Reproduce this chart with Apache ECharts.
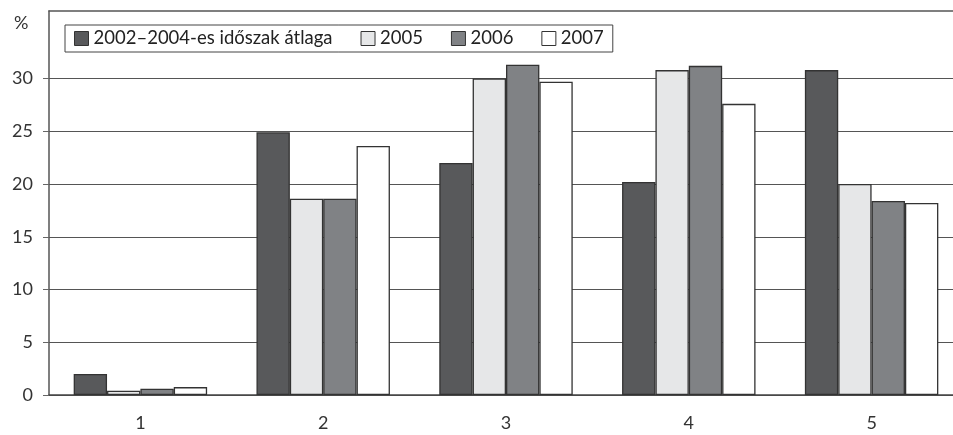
<!DOCTYPE html>
<html>
<head>
<meta charset="utf-8">
<script src="https://cdn.jsdelivr.net/npm/echarts@6/dist/echarts.min.js"></script>
<style>
  html, body { margin: 0; padding: 0; background: #fff; overflow: hidden; }
  #chart { width: 953px; height: 435px; }
</style>
</head>
<body>
<div id="chart"></div>
<script>
// Categories along the x axis
const categories = ['1', '2', '3', '4', '5'];

// Series names and values (%)
const seriesNames = ['2002–2004-es időszak átlaga', '2005', '2006', '2007'];
const avg2002_2004 = [2.0, 24.9, 22.0, 20.2, 30.8];
const values2005   = [0.4, 18.6, 30.0, 30.8, 20.0];
const values2006   = [0.6, 18.6, 31.3, 31.2, 18.4];
const values2007   = [0.75, 23.6, 29.7, 27.6, 18.2];

// Y axis tick labels
const yTicks = [0, 5, 10, 15, 20, 25, 30];

const fills = ['#58595b', '#e6e7e8', '#808285', '#ffffff'];
const seriesData = [avg2002_2004, values2005, values2006, values2007];
const FONT = 'Lato, "Open Sans", sans-serif';

const chart = echarts.init(document.getElementById('chart'), null, { renderer: 'canvas' });

chart.setOption({
  animation: false,
  backgroundColor: '#ffffff',
  title: {
    text: '%',
    left: 9,
    top: 9,
    textStyle: { fontFamily: FONT, fontSize: 18, fontWeight: 'normal', color: '#333' }
  },
  legend: {
    left: 65,
    top: 25,
    orient: 'horizontal',
    icon: 'rect',
    itemWidth: 14,
    itemHeight: 14,
    itemGap: 28,
    itemStyle: { borderColor: '#333', borderWidth: 1 },
    padding: [4, 9, 4, 9],
    borderColor: '#444',
    borderWidth: 1,
    backgroundColor: '#fff',
    textStyle: { fontFamily: FONT, fontSize: 18.5, color: '#222' },
    data: seriesNames
  },
  grid: {
    left: 49,
    right: -10,
    top: 11,
    bottom: 40,
    show: false,
    outerBoundsMode: 'none',
    containLabel: false
  },
  xAxis: [
    {
      type: 'category',
      data: categories,
      boundaryGap: true,
      axisLine: { lineStyle: { color: '#444', width: 1.5 } },
      axisTick: { alignWithLabel: false, length: 8, lineStyle: { color: '#666' } },
      axisLabel: { fontFamily: FONT, fontSize: 18, color: '#333', margin: 19 },
      splitLine: { show: false }
    },
    {
      // top frame line of the plot area
      type: 'category',
      data: categories,
      position: 'top',
      axisLine: { show: true, lineStyle: { color: '#555', width: 1.5 } },
      axisTick: { show: false },
      axisLabel: { show: false },
      splitLine: { show: false }
    }
  ],
  yAxis: {
    type: 'value',
    min: 0,
    max: 36.4,
    interval: 5,
    axisLine: { show: true, lineStyle: { color: '#555', width: 1.5 } },
    axisTick: { show: true, length: 6, customValues: yTicks, lineStyle: { color: '#666' } },
    axisLabel: { fontFamily: FONT, fontSize: 18, color: '#333', margin: 16, customValues: yTicks },
    splitLine: { show: true, lineStyle: { color: '#555', width: 1.2 } }
  },
  series: seriesNames.map((name, i) => ({
    name,
    type: 'bar',
    xAxisIndex: 0,
    data: seriesData[i],
    barGap: '0%',
    barCategoryGap: '27%',
    itemStyle: { color: fills[i], borderColor: '#333', borderWidth: 1.3 }
  }))
});
</script>
</body>
</html>
